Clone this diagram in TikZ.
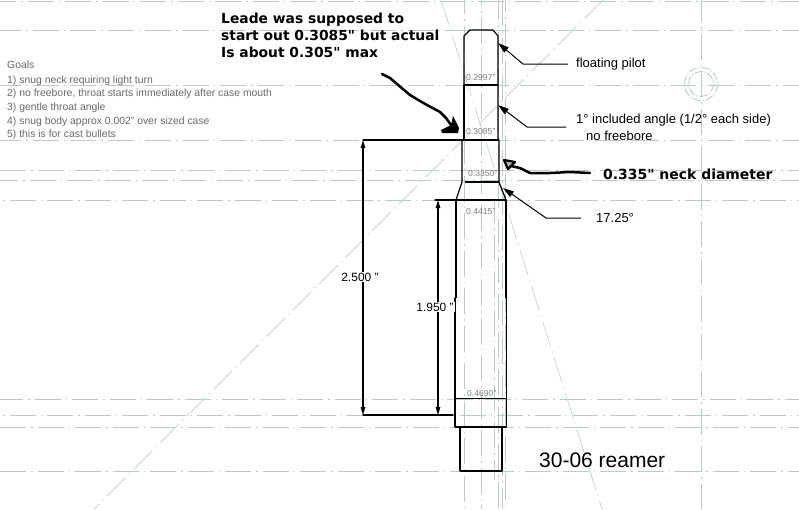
\documentclass[tikz,border=0pt]{standalone}
\usepackage{fontspec}
\setmainfont{Liberation Sans}
\newfontfamily\calloutfont{DejaVu Sans}[BoldFont={DejaVu Sans Bold}]
\usetikzlibrary{arrows.meta}
\definecolor{cline}{HTML}{BCCACA}
\definecolor{dline}{HTML}{CCD6D6}
\definecolor{goaltext}{HTML}{6A6A6A}
\definecolor{dimtext}{HTML}{808080}
\tikzset{
  x=1pt,y=-1pt,
  centerline/.style={draw=cline,line width=0.9pt,dash pattern=on 26pt off 5pt on 1.5pt off 5pt},
  outline/.style={draw=black,line width=1.2pt,line cap=round,line join=round},
  heavy/.style={draw=black,line width=1.6pt},
  dimline/.style={draw=black,line width=1.1pt,{Triangle[length=8pt,width=4.5pt]}-{Triangle[length=8pt,width=4.5pt]}},
  leader/.style={draw=black,line width=1pt,-{Triangle[length=11pt,width=6.5pt]}},
  handmark/.style={draw=black,line width=2.5pt,line cap=round,line join=round},
  note/.style={anchor=west,inner ysep=0pt,text=black,font=\fontsize{13}{17}\selectfont},
  dimlabel/.style={fill=white,inner sep=1pt,font=\fontsize{12}{14}\selectfont},
  sizelabel/.style={anchor=base west,inner sep=0pt,text=dimtext,font=\fontsize{8.6}{10}\selectfont},
  goal/.style={anchor=base west,inner sep=0pt,text=goaltext,font=\fontsize{10.4}{11}\selectfont},
}
\begin{document}
\begin{tikzpicture}
\useasboundingbox (0,0) rectangle (799,509);
\fill[white] (0,0) rectangle (799,509);
\begin{scope}
\clip (0,0) rectangle (799,509);
% horizontal centre lines
\foreach \yy/\ph in {1/10,30/5,85/5,140/5,170/0,180/8,200/28,399/3,415/28,427/0,471/0}
  \draw[centerline,dash phase=\ph pt] (0,\yy) -- (799,\yy);
% vertical centre lines
\foreach \xx/\ph in {701/4,464/12,481/20,498/6,502/0,505/14}
  \draw[centerline,dash phase=\ph pt] (\xx,0) -- (\xx,509);
\draw[centerline,dash phase=3pt] (494,200) -- (494,480);
% diagonals
\draw[centerline,draw=dline,line width=0.8pt] (441,0) -- (602,509);
\draw[centerline,draw=dline,line width=0.8pt] (603,0) -- (94,509);
% target circles
\draw[centerline,dash pattern=on 8pt off 2pt on 1pt off 2pt] (701,84) circle[radius=16.5];
\draw[centerline,dash pattern=on 8pt off 2pt on 1pt off 2pt] (701,84) circle[radius=12.5];
\end{scope}

% reamer outline
\draw[outline] (464,85) -- (464,36) -- (470,30) -- (493,30) -- (498,36) -- (498,140);
\draw[outline] (464,85) -- (464,140);
\draw[outline] (464,85) -- (498,85);
\draw[heavy] (464,140) -- (499,140);
\draw[outline] (462,140) -- (462,182) -- (456,200);
\draw[outline] (499,140) -- (499,182) -- (506,200);
\draw[heavy] (465,182) -- (499,182);
\draw[heavy] (456,200) -- (456,298);
\draw[heavy] (506,200) -- (506,298);
\draw[outline] (455,298) -- (455,427);
\draw[outline] (506.5,298) -- (506.5,427);
\draw[outline,line width=0.9pt] (455,398) -- (506,398);
\draw[heavy] (455,427) -- (506,427);
\draw[heavy] (460,427) -- (460,471);
\draw[heavy] (502,427) -- (502,471);
\draw[outline] (460,471) -- (502,471);

% extension lines
\coordinate (ext140) at (363,140);
\coordinate (ext200) at (438,200);
\coordinate (ext415a) at (363,415);
\coordinate (ext415b) at (438,415);
\draw[outline,line width=1.2pt] (ext140) -- (464,140);
\draw[outline,line width=1.2pt] (435,200) -- (506,200);
\draw[outline,line width=1.2pt] (ext415a) -- (453,415);

% dimensions
\draw[dimline] (ext140) -- (ext415a);
\draw[dimline] (ext200) -- (ext415b);
\node[dimlabel] (dimA) at (360,277) {2.500 "};
\node[dimlabel] (dimB) at (435,307) {1.950 "};

% size labels inside the reamer
\node[sizelabel] (s1) at (466,80) {0.2997"};
\node[sizelabel] (s2) at (466,134) {0.3085"};
\node[sizelabel] (s3) at (468,176) {0.3350"};
\node[sizelabel] (s4) at (466,214) {0.4415"};
\node[sizelabel] (s5) at (467,396) {0.4690"};

% callouts
\node[note,inner xsep=8pt] (pilot) at (568,64) {floating pilot};
\coordinate (pilotElbow) at (523,64);
\coordinate (pilotTip) at (498,43);
\draw[leader] (pilot.west) -- (pilotElbow) -- (pilotTip);

\node[note,inner xsep=10pt,align=left] (incl) at (566,127) {1° included angle (1/2° each side)\\\hspace{10pt}no freebore};
\coordinate (inclElbow) at (527,127);
\coordinate (inclTip) at (498,105);
\draw[leader] (incl.west) -- (inclElbow) -- (inclTip);

\node[note,inner xsep=15pt] (angle) at (581,218) {17.25°};
\coordinate (angleElbow) at (546,218);
\coordinate (angleTip) at (503,188);
\draw[leader] (angle.west) -- (angleElbow) -- (angleTip);

% hand-written notes
\node[anchor=base west,inner sep=0pt,align=left,font=\calloutfont\bfseries\fontsize{13.85}{17}\selectfont] (leade) at (221,57) {Leade was supposed to\\start out 0.3085" but actual\\Is about 0.305" max};
\node[anchor=base west,inner sep=0pt,font=\calloutfont\bfseries\fontsize{13.95}{15}\selectfont] (neck) at (603,179) {0.335" neck diameter};
\node[anchor=base west,inner sep=0pt,font=\fontsize{21}{24}\selectfont] (title) at (539,467) {30-06 reamer};

% hand-drawn arrows
\draw[handmark] (382,74) -- (390,78) -- (397,84) -- (404,90) -- (410,95) -- (420,101) -- (427,105) -- (440,112) -- (446,118) -- (451,125);
\fill[black] (453,116) -- (459,128) -- (458,133) -- (442,133) -- (441,130) -- (451,125) -- cycle;
\draw[handmark] (590,173) -- (570,172) -- (550,173) -- (530,173) -- (520,168) -- (511,166);
\draw[draw=black,line width=2.2pt,fill=gray!60,line join=round] (504,160) -- (515,162) -- (508,169) -- cycle;

% goals
\node[goal] (g0) at (7,68) {Goals};
\node[goal] (g1) at (7,83) {1) snug neck requiring light turn};
\node[goal] (g2) at (7,96) {2) no freebore, throat starts immediately after case mouth};
\node[goal] (g3) at (7,110) {3) gentle throat angle};
\node[goal] (g4) at (7,124) {4) snug body approx 0.002" over sized case};
\node[goal] (g5) at (7,137) {5) this is for cast bullets};
\end{tikzpicture}
\end{document}
